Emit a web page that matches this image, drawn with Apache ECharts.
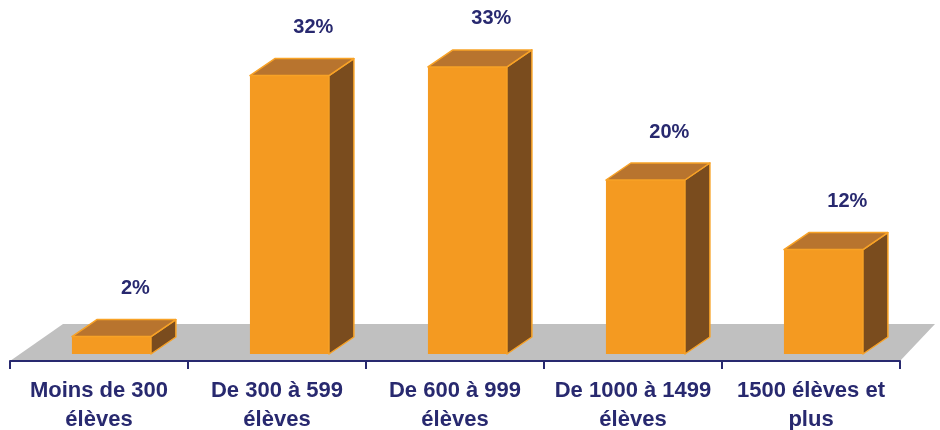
<!DOCTYPE html>
<html>
<head>
<meta charset="utf-8">
<script src="https://cdn.jsdelivr.net/npm/echarts@6/dist/echarts.min.js"></script>
<style>
  html, body { margin: 0; padding: 0; background: #fff; }
  #chart { width: 940px; height: 430px; }
</style>
</head>
<body>
<div id="chart"></div>
<script>
// categories and shares (%)
var categories = [
  'Moins de 300\nélèves',
  'De 300 à 599\nélèves',
  'De 600 à 999\nélèves',
  'De 1000 à 1499\nélèves',
  '1500 élèves et\nplus'
]
var shares = [2, 32, 33, 20, 12]

var navy = '#28296F'
var front = '#F49A21'
var topFace = '#B8742E'
var sideFace = '#7A4C1E'
var edge = '#F8A226'

function renderFloor(params, api) {
  var band = api.size([1, 0])[0]
  var left = api.coord([0, 0])
  var right = api.coord([categories.length - 1, 0])
  var y = left[1] + 7
  var x1 = left[0] - band / 2
  var x2 = right[0] + band / 2
  return {
    type: 'polygon',
    shape: { points: [[x1, y], [x2, y], [x2 + 35, y - 37], [x1 + 53, y - 37]] },
    style: { fill: '#C0C0C0' }
  }
}

function renderBar(params, api) {
  var base = api.coord([api.value(0), 0])
  var top = api.coord([api.value(0), api.value(1)])
  var band = api.size([1, 0])[0]
  var w = band * 0.444
  var dx = band * 0.14
  var dy = 17
  var x1 = base[0] - band * 0.152
  var x2 = x1 + w
  var yb = base[1]
  var yt = top[1]
  return {
    type: 'group',
    children: [
      {
        type: 'rect',
        shape: { x: x1, y: yt, width: w, height: yb - yt },
        style: { fill: front }
      },
      {
        type: 'polygon',
        shape: { points: [[x2, yt], [x2 + dx, yt - dy], [x2 + dx, yb - dy], [x2, yb]] },
        style: { fill: sideFace, stroke: edge, lineWidth: 1.5, lineJoin: 'round' }
      },
      {
        type: 'polygon',
        shape: { points: [[x1, yt], [x2, yt], [x2 + dx, yt - dy], [x1 + dx, yt - dy]] },
        style: { fill: topFace, stroke: edge, lineWidth: 1.5, lineJoin: 'round' }
      },
      {
        type: 'text',
        x: x1 + w / 2 + dx - 1,
        y: yt - 48,
        style: {
          text: api.value(1) + '%',
          fill: navy,
          font: 'bold 20px "Liberation Sans", Arial, sans-serif',
          align: 'center',
          verticalAlign: 'middle'
        }
      }
    ]
  }
}

var chart = echarts.init(document.getElementById('chart'))
chart.setOption({
  animation: false,
  grid: { left: 10, right: 40, top: 6, bottom: 76, outerBoundsMode: 'none', containLabel: false },
  xAxis: {
    type: 'category',
    data: categories,
    offset: 7,
    z: 5,
    axisLine: { onZero: false, lineStyle: { color: navy, width: 2 } },
    axisTick: { show: true, length: 8, lineStyle: { color: navy, width: 2 } },
    axisLabel: {
      interval: 0,
      margin: 15,
      color: navy,
      fontWeight: 'bold',
      fontSize: 22,
      lineHeight: 29,
      fontFamily: '"Liberation Sans", Arial, sans-serif'
    }
  },
  yAxis: {
    type: 'value',
    min: 0,
    max: 40,
    show: false
  },
  series: [
    {
      type: 'custom',
      renderItem: renderFloor,
      data: [[0, 0]],
      silent: true,
      z: 1
    },
    {
      type: 'custom',
      renderItem: renderBar,
      data: shares.map(function (v, i) { return [i, v] }),
      z: 2
    }
  ]
})
</script>
</body>
</html>
